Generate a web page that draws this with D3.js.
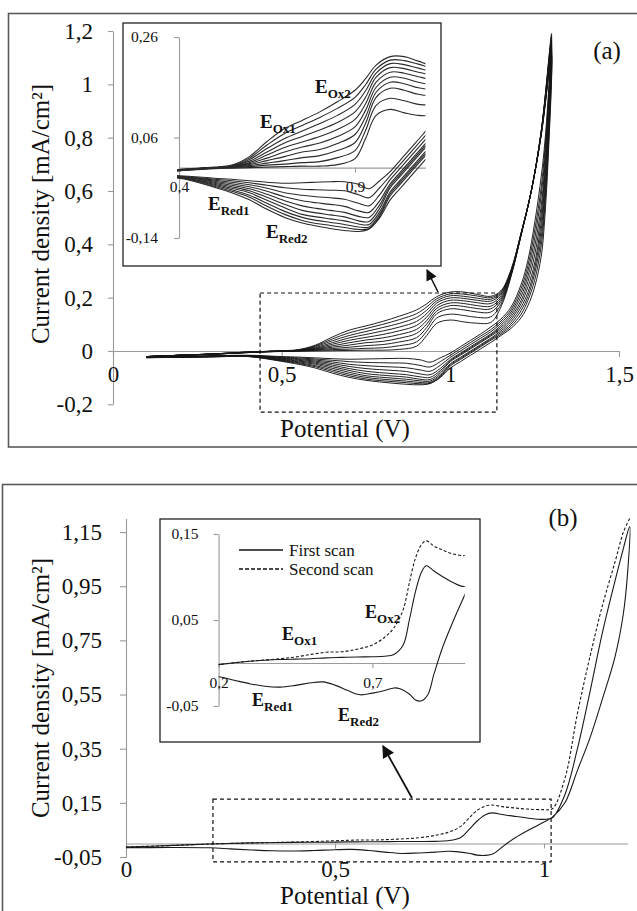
<!DOCTYPE html>
<html><head><meta charset="utf-8">
<script src="https://cdn.jsdelivr.net/npm/d3@7"></script>
<style>
body{margin:0;background:#fff}
svg{display:block}
svg text{font-family:'Liberation Serif','DejaVu Serif','Noto Serif',Tinos,'Times New Roman',Times,serif;fill:#111}
</style></head>
<body><svg id="c" width="637" height="911"></svg>
<script>
// ---------------- DATA: panel (a) — successive CV cycles ----------------
const cvAPotFwd = [0.10,0.20,0.30,0.40,0.50,0.55,0.60,0.65,0.70,0.75,0.80,0.85,0.90,0.93,0.96,1.00,1.04,1.08,1.12,1.15,1.18,1.21,1.24,1.27,1.30];
const cvAFwd = [
 [-0.021,-0.016,-0.012,-0.006,-0.002,-0.001,0.000,0.001,0.002,0.003,0.003,0.006,0.018,0.058,0.104,0.116,0.109,0.104,0.107,0.165,0.280,0.435,0.600,0.830,1.190],
 [-0.021,-0.016,-0.012,-0.006,-0.001,0.000,0.002,0.005,0.007,0.010,0.012,0.020,0.034,0.074,0.124,0.138,0.133,0.126,0.128,0.175,0.283,0.436,0.600,0.830,1.180],
 [-0.021,-0.016,-0.012,-0.006,-0.001,0.001,0.004,0.009,0.014,0.020,0.024,0.034,0.050,0.088,0.140,0.158,0.154,0.146,0.146,0.185,0.286,0.437,0.600,0.828,1.170],
 [-0.021,-0.016,-0.012,-0.005,0.000,0.001,0.006,0.014,0.022,0.031,0.036,0.048,0.066,0.101,0.150,0.170,0.167,0.159,0.158,0.193,0.289,0.438,0.600,0.826,1.160],
 [-0.021,-0.016,-0.012,-0.005,0.000,0.002,0.008,0.019,0.031,0.041,0.049,0.062,0.081,0.114,0.160,0.180,0.178,0.170,0.168,0.200,0.292,0.439,0.600,0.824,1.150],
 [-0.021,-0.016,-0.011,-0.005,0.000,0.002,0.010,0.025,0.040,0.051,0.062,0.076,0.096,0.127,0.170,0.190,0.188,0.181,0.178,0.207,0.295,0.440,0.600,0.822,1.140],
 [-0.021,-0.016,-0.011,-0.004,0.000,0.003,0.013,0.031,0.049,0.062,0.075,0.090,0.111,0.140,0.180,0.199,0.197,0.190,0.187,0.213,0.298,0.441,0.600,0.820,1.130],
 [-0.021,-0.016,-0.011,-0.004,0.000,0.003,0.016,0.038,0.058,0.073,0.088,0.104,0.126,0.153,0.188,0.207,0.205,0.198,0.194,0.218,0.300,0.442,0.600,0.818,1.120],
 [-0.021,-0.016,-0.011,-0.004,0.000,0.004,0.019,0.045,0.068,0.084,0.100,0.118,0.140,0.165,0.196,0.214,0.213,0.206,0.200,0.222,0.302,0.443,0.600,0.816,1.110],
 [-0.021,-0.016,-0.011,-0.004,0.001,0.005,0.022,0.052,0.078,0.094,0.111,0.131,0.154,0.177,0.204,0.221,0.221,0.212,0.205,0.226,0.305,0.444,0.600,0.814,1.100]
];
const cvAPotRev = [1.29,1.28,1.27,1.25,1.23,1.21,1.18,1.15,1.12,1.09,1.06,1.03,1.00,0.97,0.94,0.91,0.87,0.83,0.79,0.75,0.70,0.65,0.60,0.55,0.50,0.40,0.30,0.20,0.10];
const cvARev = [
 [0.95,0.78,0.66,0.48,0.34,0.25,0.165,0.120,0.090,0.064,0.040,0.016,-0.008,-0.026,-0.042,-0.033,-0.028,-0.028,-0.029,-0.030,-0.031,-0.029,-0.026,-0.023,-0.021,-0.016,-0.018,-0.021,-0.023],
 [0.93,0.75,0.62,0.45,0.32,0.235,0.155,0.112,0.080,0.056,0.032,0.008,-0.016,-0.040,-0.060,-0.054,-0.046,-0.045,-0.044,-0.043,-0.040,-0.035,-0.030,-0.026,-0.023,-0.017,-0.018,-0.021,-0.023],
 [0.91,0.72,0.59,0.42,0.30,0.220,0.146,0.104,0.072,0.048,0.024,0.000,-0.024,-0.054,-0.076,-0.071,-0.063,-0.060,-0.058,-0.055,-0.050,-0.041,-0.034,-0.029,-0.025,-0.017,-0.019,-0.022,-0.023],
 [0.89,0.69,0.55,0.39,0.28,0.205,0.137,0.096,0.064,0.040,0.016,-0.008,-0.032,-0.066,-0.089,-0.086,-0.077,-0.073,-0.070,-0.066,-0.058,-0.047,-0.038,-0.032,-0.027,-0.018,-0.019,-0.022,-0.024],
 [0.86,0.66,0.52,0.36,0.26,0.190,0.128,0.089,0.060,0.036,0.012,-0.012,-0.036,-0.074,-0.099,-0.097,-0.089,-0.085,-0.081,-0.076,-0.066,-0.053,-0.042,-0.035,-0.029,-0.018,-0.020,-0.022,-0.024],
 [0.84,0.63,0.49,0.33,0.24,0.178,0.119,0.082,0.056,0.032,0.008,-0.016,-0.040,-0.081,-0.107,-0.106,-0.098,-0.094,-0.090,-0.085,-0.073,-0.059,-0.046,-0.038,-0.031,-0.019,-0.020,-0.023,-0.024],
 [0.81,0.60,0.46,0.31,0.22,0.165,0.110,0.075,0.048,0.024,0.000,-0.024,-0.048,-0.088,-0.113,-0.112,-0.106,-0.102,-0.098,-0.093,-0.080,-0.065,-0.050,-0.041,-0.033,-0.019,-0.021,-0.023,-0.025],
 [0.78,0.57,0.43,0.29,0.205,0.152,0.101,0.069,0.044,0.020,-0.004,-0.028,-0.052,-0.093,-0.118,-0.118,-0.113,-0.109,-0.105,-0.099,-0.087,-0.071,-0.055,-0.044,-0.035,-0.020,-0.021,-0.023,-0.025],
 [0.75,0.54,0.40,0.265,0.19,0.138,0.093,0.063,0.040,0.016,-0.008,-0.032,-0.056,-0.097,-0.121,-0.123,-0.119,-0.115,-0.111,-0.105,-0.093,-0.077,-0.059,-0.047,-0.037,-0.020,-0.022,-0.024,-0.025],
 [0.72,0.50,0.36,0.24,0.17,0.125,0.085,0.058,0.032,0.008,-0.016,-0.040,-0.064,-0.100,-0.122,-0.127,-0.125,-0.121,-0.116,-0.110,-0.099,-0.083,-0.064,-0.050,-0.039,-0.021,-0.022,-0.024,-0.025]
];
const aYTicks = [-0.2,0,0.2,0.4,0.6,0.8,1,1.2];
const aXTicks = [0,0.5,1,1.5];
const aInsetYTicks = [-0.14,0.06,0.26];
const aInsetXTicks = [0.4,0.9];
const aZoomWindow = [0.436,1.138,-0.229,0.2175]; // Vmin,Vmax,jmin,jmax of dashed box

// ---------------- DATA: panel (b) — first / second scan ----------------
const cvBPotFwd = [0.00,0.10,0.20,0.30,0.40,0.45,0.50,0.55,0.60,0.65,0.70,0.74,0.77,0.80,0.82,0.84,0.86,0.875,0.90,0.93,0.96,1.00,1.02,1.05,1.08,1.11,1.14,1.17,1.19,1.205];
const firstScanFwd  = [-0.013,-0.008,-0.002,0.002,0.004,0.0045,0.005,0.006,0.0065,0.007,0.0072,0.0078,0.010,0.021,0.050,0.083,0.106,0.113,0.107,0.100,0.094,0.089,0.095,0.18,0.35,0.56,0.78,0.97,1.09,1.17];
const secondScanFwd = [-0.013,-0.008,-0.002,0.002,0.005,0.007,0.010,0.0125,0.013,0.016,0.021,0.030,0.041,0.062,0.093,0.122,0.138,0.142,0.136,0.131,0.127,0.125,0.128,0.24,0.48,0.69,0.88,1.04,1.15,1.20];
const cvBPotRev = [1.20,1.19,1.17,1.14,1.11,1.08,1.05,1.02,1.00,0.97,0.93,0.90,0.88,0.86,0.84,0.82,0.79,0.77,0.74,0.70,0.66,0.62,0.58,0.54,0.50,0.45,0.40,0.35,0.30,0.25,0.20,0.10,0.00];
const firstScanRev = [1.00,0.85,0.69,0.535,0.39,0.27,0.15,0.097,0.079,0.055,0.020,-0.013,-0.037,-0.044,-0.043,-0.036,-0.030,-0.029,-0.032,-0.035,-0.037,-0.032,-0.026,-0.022,-0.023,-0.026,-0.028,-0.027,-0.024,-0.020,-0.016,-0.015,-0.016];
const bYTicks = [-0.05,0.15,0.35,0.55,0.75,0.95,1.15];
const bXTicks = [0,0.5,1];
const bInsetYTicks = [-0.05,0.05,0.15];
const bInsetXTicks = [0.2,0.7];
const bZoomWindow = [0.208,1.017,-0.068,0.164];
const legendLabels = ["First scan","Second scan"];

// ---------------- DRAWING ----------------
const svg = d3.select("#c");
const fmt = d => String(d).replace(".", ",");
const FONT = "'Liberation Serif','DejaVu Serif','Noto Serif',Tinos,'Times New Roman',Times,serif";
const AX = "#9a9a9a";
svg.attr("font-family", FONT);

svg.append("defs").append("marker").attr("id","arr").attr("viewBox","0 0 10 10")
  .attr("refX",9).attr("refY",5).attr("markerWidth",7).attr("markerHeight",7)
  .attr("orient","auto").append("path").attr("d","M0,0L10,5L0,10z").attr("fill","#111");

function styleAxis(g, size){
  g.attr("font-family", FONT).attr("font-size", size);
  g.select(".domain").attr("stroke", AX).attr("stroke-width",1.1);
  g.selectAll(".tick line").attr("stroke", AX).attr("stroke-width",1.1);
  g.selectAll(".tick text").attr("fill","#111").style("font-family", FONT);
}
function yAxis(scale, ticks, x, size, len, pad){
  const g = svg.append("g").attr("transform",`translate(${x},0)`)
    .call(d3.axisLeft(scale).tickValues(ticks).tickFormat(fmt).tickSizeInner(len).tickSizeOuter(0).tickPadding(pad));
  styleAxis(g,size); return g;
}
function xAxis(scale, ticks, y, size, len, labelOff){
  const g = svg.append("g").attr("transform",`translate(0,${y})`)
    .call(d3.axisBottom(scale).tickValues(ticks).tickFormat(fmt).tickSizeInner(len).tickSizeOuter(0));
  styleAxis(g,size);
  g.selectAll(".tick text").attr("y",labelOff).attr("dy","0.35em");
  return g;
}
function txt(x,y,s,size,anchor){
  return svg.append("text").attr("x",x).attr("y",y).attr("text-anchor",anchor||"middle")
    .attr("dy","0.35em").attr("font-size",size).style("font-family",FONT).text(s);
}
function eLabel(x,y,sub,size,subSize){
  const t = svg.append("text").attr("x",x).attr("y",y).attr("font-weight","bold").attr("font-size",size)
    .style("font-family",FONT).text("E");
  t.append("tspan").attr("font-size",subSize).attr("dy",size*0.27).text(sub);
}
const curve = d3.curveCatmullRom.alpha(0.5);

// ===== Panel (a) =====
svg.append("rect").attr("x",8.5).attr("y",13.5).attr("width",700).attr("height",433.5)
  .attr("fill","none").attr("stroke","#5a5a5a").attr("stroke-width",1.6);

const xA = d3.scaleLinear([0,1.5],[113,619]);
const yA = d3.scaleLinear([-0.2,1.2],[404.3,31]);
yAxis(yA, aYTicks, 113, 23, 5, 15);
xAxis(xA, aXTicks, yA(0), 23, 6, 23);

const loopsA = cvAFwd.map((f,i)=> cvAPotFwd.map((v,k)=>[v,f[k]]).concat(cvAPotRev.map((v,k)=>[v,cvARev[i][k]])));
const lineA = d3.line().x(d=>xA(d[0])).y(d=>yA(d[1])).curve(curve);
svg.append("g").selectAll("path").data(loopsA).join("path")
  .attr("d",lineA).attr("fill","none").attr("stroke","#151515").attr("stroke-width",0.95);

svg.append("rect").attr("x",xA(aZoomWindow[0])).attr("y",yA(aZoomWindow[3]))
  .attr("width",xA(aZoomWindow[1])-xA(aZoomWindow[0])).attr("height",yA(aZoomWindow[2])-yA(aZoomWindow[3]))
  .attr("fill","none").attr("stroke","#111").attr("stroke-width",1.2).attr("stroke-dasharray","4,3");
svg.append("line").attr("x1",438).attr("y1",292).attr("x2",427).attr("y2",270)
  .attr("stroke","#111").attr("stroke-width",1.6).attr("marker-end","url(#arr)");

txt(607,50,"(a)",25);
svg.append("text").attr("transform","translate(40,214) rotate(-90)").attr("text-anchor","middle")
  .attr("dy","0.35em").attr("font-size",25).style("font-family",FONT).text("Current density [mA/cm²]");
txt(345,428,"Potential (V)",25);

// inset (a)
svg.append("rect").attr("x",123).attr("y",23).attr("width",318).attr("height",243)
  .attr("fill","#fff").attr("stroke","#222").attr("stroke-width",1.3);
const xAi = d3.scaleLinear([0.4,1.1],[179,425.4]);
const yAi = d3.scaleLinear([-0.14,0.26],[238,37]);
yAxis(yAi, aInsetYTicks, 179, 15.5, 5, 16);
xAxis(xAi, aInsetXTicks, yAi(0), 15.5, 5, 19);
svg.select("defs").append("clipPath").attr("id","clipA").append("rect")
  .attr("x",xAi(0.4)-2).attr("y",24).attr("width",xAi(1.1)-xAi(0.4)+2).attr("height",241);
const lineAi = d3.line().x(d=>xAi(d[0])).y(d=>yAi(d[1])).curve(curve);
svg.append("g").attr("clip-path","url(#clipA)").selectAll("path").data(loopsA).join("path")
  .attr("d",lineAi).attr("fill","none").attr("stroke","#2a2a2a").attr("stroke-width",1.1);
eLabel(315,93,"Ox2",19,13);
eLabel(260,128,"Ox1",19,13);
eLabel(208,210,"Red1",19,13);
eLabel(266,238,"Red2",19,13);

// ===== Panel (b) =====
svg.append("rect").attr("x",2.5).attr("y",484.5).attr("width",700).attr("height",500)
  .attr("fill","none").attr("stroke","#5a5a5a").attr("stroke-width",1.6);

const xB = d3.scaleLinear([0,1.2],[126,627.6]);
const yB = d3.scaleLinear([-0.05,1.2],[857,518.5]);
yAxis(yB, bYTicks, 126, 23, 6, 18);
xAxis(xB, bXTicks, yB(0), 23, 5, 25);

const firstLoop = cvBPotFwd.map((v,k)=>[v,firstScanFwd[k]]).concat(cvBPotRev.map((v,k)=>[v,firstScanRev[k]]));
const secondLoop = cvBPotFwd.map((v,k)=>[v,secondScanFwd[k]]);
const scansB = [{pts:firstLoop,dash:null},{pts:secondLoop,dash:"3,2"}];
const lineB = d3.line().x(d=>xB(d[0])).y(d=>yB(d[1])).curve(curve);
svg.append("g").selectAll("path").data(scansB).join("path")
  .attr("d",d=>lineB(d.pts)).attr("fill","none").attr("stroke","#1a1a1a").attr("stroke-width",1.1)
  .attr("stroke-dasharray",d=>d.dash);

svg.append("rect").attr("x",xB(bZoomWindow[0])).attr("y",yB(bZoomWindow[3]))
  .attr("width",xB(bZoomWindow[1])-xB(bZoomWindow[0])).attr("height",yB(bZoomWindow[2])-yB(bZoomWindow[3]))
  .attr("fill","none").attr("stroke","#111").attr("stroke-width",1.2).attr("stroke-dasharray","4,3");
svg.append("line").attr("x1",412).attr("y1",798).attr("x2",383).attr("y2",746)
  .attr("stroke","#111").attr("stroke-width",1.8).attr("marker-end","url(#arr)");

txt(563,517,"(b)",25);
svg.append("text").attr("transform","translate(40,688) rotate(-90)").attr("text-anchor","middle")
  .attr("dy","0.35em").attr("font-size",25).style("font-family",FONT).text("Current density [mA/cm²]");
txt(345,895,"Potential (V)",25);

// inset (b)
svg.append("rect").attr("x",160).attr("y",519).attr("width",320).attr("height",223)
  .attr("fill","#fff").attr("stroke","#222").attr("stroke-width",1.3);
const xBi = d3.scaleLinear([0.2,1.0],[218.6,464.7]);
const yBi = d3.scaleLinear([-0.05,0.15],[706,534]);
yAxis(yBi, bInsetYTicks, 218.6, 15.5, 5, 15);
xAxis(xBi, bInsetXTicks, yBi(0), 15.5, 5, 20);
svg.select("defs").append("clipPath").attr("id","clipB").append("rect")
  .attr("x",xBi(0.2)).attr("y",520).attr("width",xBi(1.0)-xBi(0.2)).attr("height",221);
const lineBi = d3.line().x(d=>xBi(d[0])).y(d=>yBi(d[1])).curve(curve);
svg.append("g").attr("clip-path","url(#clipB)").selectAll("path").data(scansB).join("path")
  .attr("d",d=>lineBi(d.pts)).attr("fill","none").attr("stroke","#1a1a1a").attr("stroke-width",1.1)
  .attr("stroke-dasharray",d=>d.dash);

const leg = svg.append("g").selectAll("g").data(legendLabels).join("g")
  .attr("transform",(d,i)=>`translate(239,${550+i*19})`);
leg.append("line").attr("x1",0).attr("x2",44).attr("stroke","#111").attr("stroke-width",1.6)
  .attr("stroke-dasharray",(d,i)=> i ? "4,2" : null);
leg.append("text").attr("x",50).attr("dy","0.35em").attr("font-size",17).style("font-family",FONT).text(d=>d);

eLabel(282,640,"Ox1",18,13);
eLabel(365,618,"Ox2",18,13);
eLabel(252,706,"Red1",18,13);
eLabel(338,721,"Red2",18,13);
</script></body></html>
